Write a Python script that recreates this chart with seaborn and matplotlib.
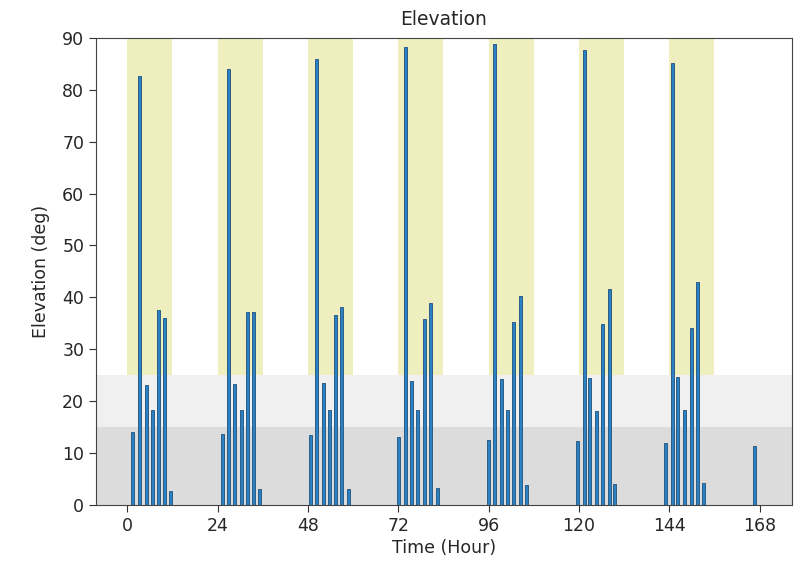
import numpy as np
import pandas as pd
import matplotlib
matplotlib.use("Agg")
import matplotlib.pyplot as plt
import seaborn as sns

# pass times (hours) and max elevation (deg)
pass_time = [1.4, 3.2, 5.0, 6.6, 8.4, 10.0, 11.6,
             25.2, 26.9, 28.6, 30.4, 32.0, 33.5, 35.1,
             48.8, 50.4, 52.1, 53.7, 55.4, 57.0, 58.7,
             72.0, 74.0, 75.6, 77.2, 78.9, 80.6, 82.4,
             96.0, 97.6, 99.3, 101.0, 102.6, 104.4, 106.0,
             119.6, 121.4, 122.8, 124.6, 126.3, 128.0, 129.5,
             142.9, 144.9, 146.3, 148.1, 149.8, 151.4, 153.0,
             166.7]
elevation = [14.1, 82.7, 23.1, 18.3, 37.6, 36.0, 2.6,
             13.6, 84.0, 23.3, 18.2, 37.1, 37.1, 3.0,
             13.4, 85.9, 23.4, 18.2, 36.6, 38.1, 3.1,
             13.0, 88.2, 23.8, 18.3, 35.8, 39.0, 3.3,
             12.5, 88.8, 24.2, 18.2, 35.3, 40.3, 3.9,
             12.3, 87.7, 24.4, 18.0, 34.9, 41.6, 4.0,
             12.0, 85.1, 24.7, 18.3, 34.1, 42.9, 4.3,
             11.4]

# daylight windows (hour start, hour end)
day_start = [0, 24, 48, 72, 96, 120, 144]
day_end = [12, 36, 60, 84, 108, 132, 156]

x_ticks = [0, 24, 48, 72, 96, 120, 144, 168]

df = pd.DataFrame({"Time": pass_time, "Elevation": elevation})

sns.set_style("ticks")
plt.rcParams["font.family"] = ["DejaVu Sans"]

fig = plt.figure(figsize=(8, 5.66), dpi=100)
ax = fig.add_axes([0.12, 0.108, 0.87, 0.825])

# background bands
ax.axhspan(0, 15, color="#dcdcdc", zorder=0, lw=0)
ax.axhspan(15, 25, color="#f0f0f0", zorder=0, lw=0)
for s, e in zip(day_start, day_end):
    ax.axvspan(s, e, ymin=25 / 90, ymax=1, color="#eeeebf", zorder=0, lw=0)

min_gap = np.min(np.diff(np.sort(df["Time"].values)))
sns.barplot(data=df, x="Time", y="Elevation", native_scale=True,
            width=0.8 / min_gap, color="#2a82c4", saturation=1,
            edgecolor="#2d5d85", linewidth=0.7, errorbar=None, ax=ax, zorder=2)

ax.set_xlim(-8.3, 176.6)
ax.set_ylim(0, 90)
ax.set_xticks(x_ticks)
ax.set_xticklabels([str(t) for t in x_ticks])
ax.set_yticks(range(0, 91, 10))
ax.tick_params(labelsize=12.5, direction="out", length=5, color="#333333")
for sp in ax.spines.values():
    sp.set_color("#444444")
    sp.set_visible(True)

ax.set_title("Elevation", fontsize=13.5, pad=9)
ax.set_xlabel("Time (Hour)", fontsize=12.5, labelpad=3)
ax.set_ylabel("Elevation (deg)", fontsize=12.5, labelpad=9)

fig.savefig("out.png", dpi=100)
